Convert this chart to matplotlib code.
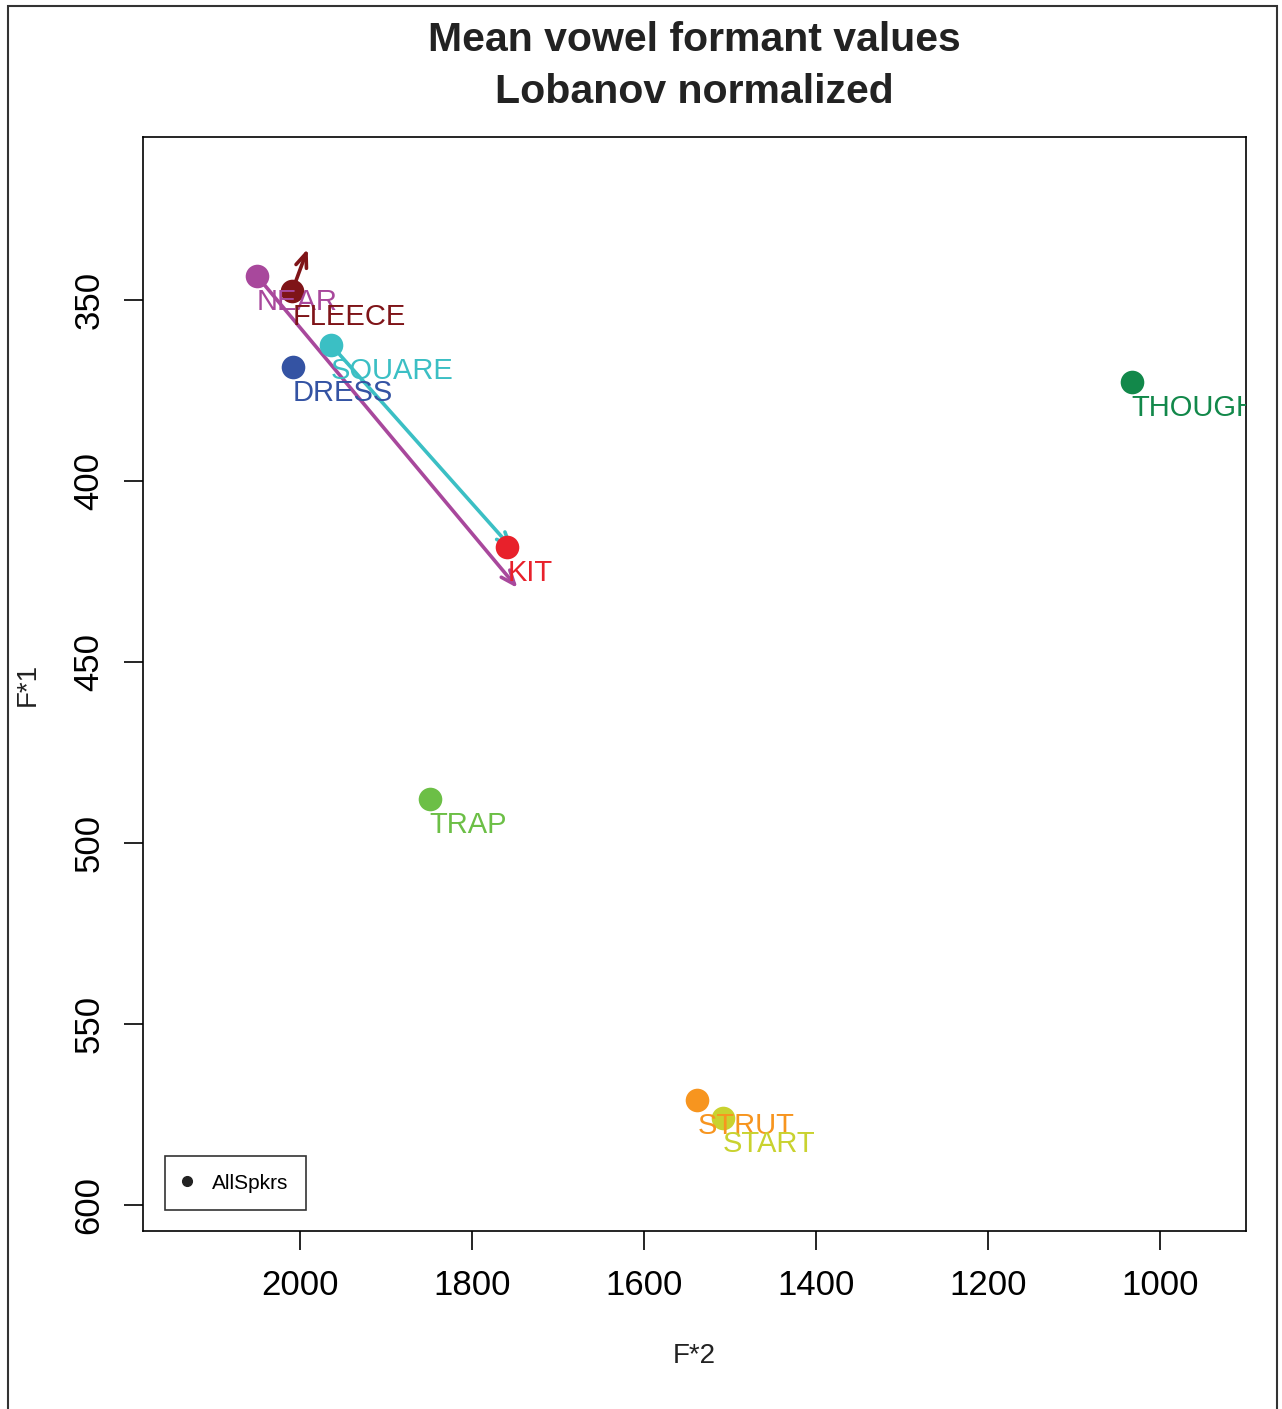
import matplotlib
matplotlib.use("Agg")
import matplotlib.pyplot as plt
from matplotlib.patches import Rectangle

plt.rcParams['font.family'] = ['Liberation Sans', 'DejaVu Sans']

# vowel means (F*2, F*1)
vowels = ['NEAR', 'FLEECE', 'SQUARE', 'DRESS', 'THOUGHT', 'KIT', 'TRAP', 'STRUT', 'START']
f2 = [2050, 2009, 1964, 2008, 1033, 1759, 1849, 1538, 1508]
f1 = [343.4, 347.5, 362.4, 368.5, 372.7, 418.2, 487.8, 571.0, 576.0]
colors = ['#a8489c', '#7f1418', '#3bbfc4', '#3453a3', '#12884a', '#e8212b',
          '#6cbf46', '#f7951f', '#c9d22f']

# glide arrows: vowel -> end point
arrow_from = ['FLEECE', 'NEAR', 'SQUARE']
arrow_f2 = [1991, 1747, 1752]
arrow_f1 = [335.9, 429.6, 419.0]

fig = plt.figure(figsize=(12.82, 14.09), dpi=100)
ax = fig.add_axes([0.1115, 0.1263, 0.8604, 0.7765])

for v, x2, y1 in zip(arrow_from, arrow_f2, arrow_f1):
    i = vowels.index(v)
    ax.annotate('', xy=(x2, y1), xytext=(f2[i], f1[i]),
                arrowprops=dict(arrowstyle='->,head_length=1.0,head_width=0.4',
                                color=colors[i], lw=2.6, shrinkA=0, shrinkB=0),
                zorder=2)

for v, x, y, c in zip(vowels, f2, f1, colors):
    ax.plot(x, y, 'o', ms=17, color=c, mec='none', zorder=3)
    ax.text(x, y + 3.3, v, color=c, fontsize=21, ha='left', va='top',
            clip_on=True, zorder=4)

ax.plot([], [], 'o', color='#222222', ms=7, label='AllSpkrs')
leg = ax.legend(loc='lower left', bbox_to_anchor=(0.02, 0.019), borderaxespad=0,
                fontsize=15, frameon=True, fancybox=False, handlelength=0.4,
                handletextpad=1.0, borderpad=0.85)
leg._legend_box.sep = 0
leg.get_frame().set_edgecolor('black')
leg.get_frame().set_linewidth(1.2)

ax.set_xlim(2182.6, 900)
ax.set_ylim(607.2, 305)
ax.set_xticks([2000, 1800, 1600, 1400, 1200, 1000])
ax.set_yticks([350, 400, 450, 500, 550, 600])
ax.tick_params(axis='both', direction='out', length=14, width=1.2, labelsize=25, pad=13)
for lab in ax.get_yticklabels():
    lab.set_rotation(90)
    lab.set_va('center')
for s in ax.spines.values():
    s.set_linewidth(1.2)

fig.text(0.5417, 0.9715, 'Mean vowel formant values', ha='center', va='center',
         fontsize=29.5, fontweight='bold', color='#222222')
fig.text(0.5417, 0.9345, 'Lobanov normalized', ha='center', va='center',
         fontsize=29.5, fontweight='bold', color='#222222')
fig.text(0.5417, 0.0375, 'F*2', ha='center', va='center', fontsize=20, color='#222222')
fig.text(0.022, 0.514, 'F*1', ha='center', va='center', fontsize=20,
         rotation=90, color='#222222')

fig.patches.append(Rectangle((8 / 1282, -0.01), (1277 - 8) / 1282, 1 - 6 / 1409 + 0.01,
                             transform=fig.transFigure, fill=False,
                             edgecolor='#333333', lw=1.5))

fig.savefig('out.png', dpi=100)
